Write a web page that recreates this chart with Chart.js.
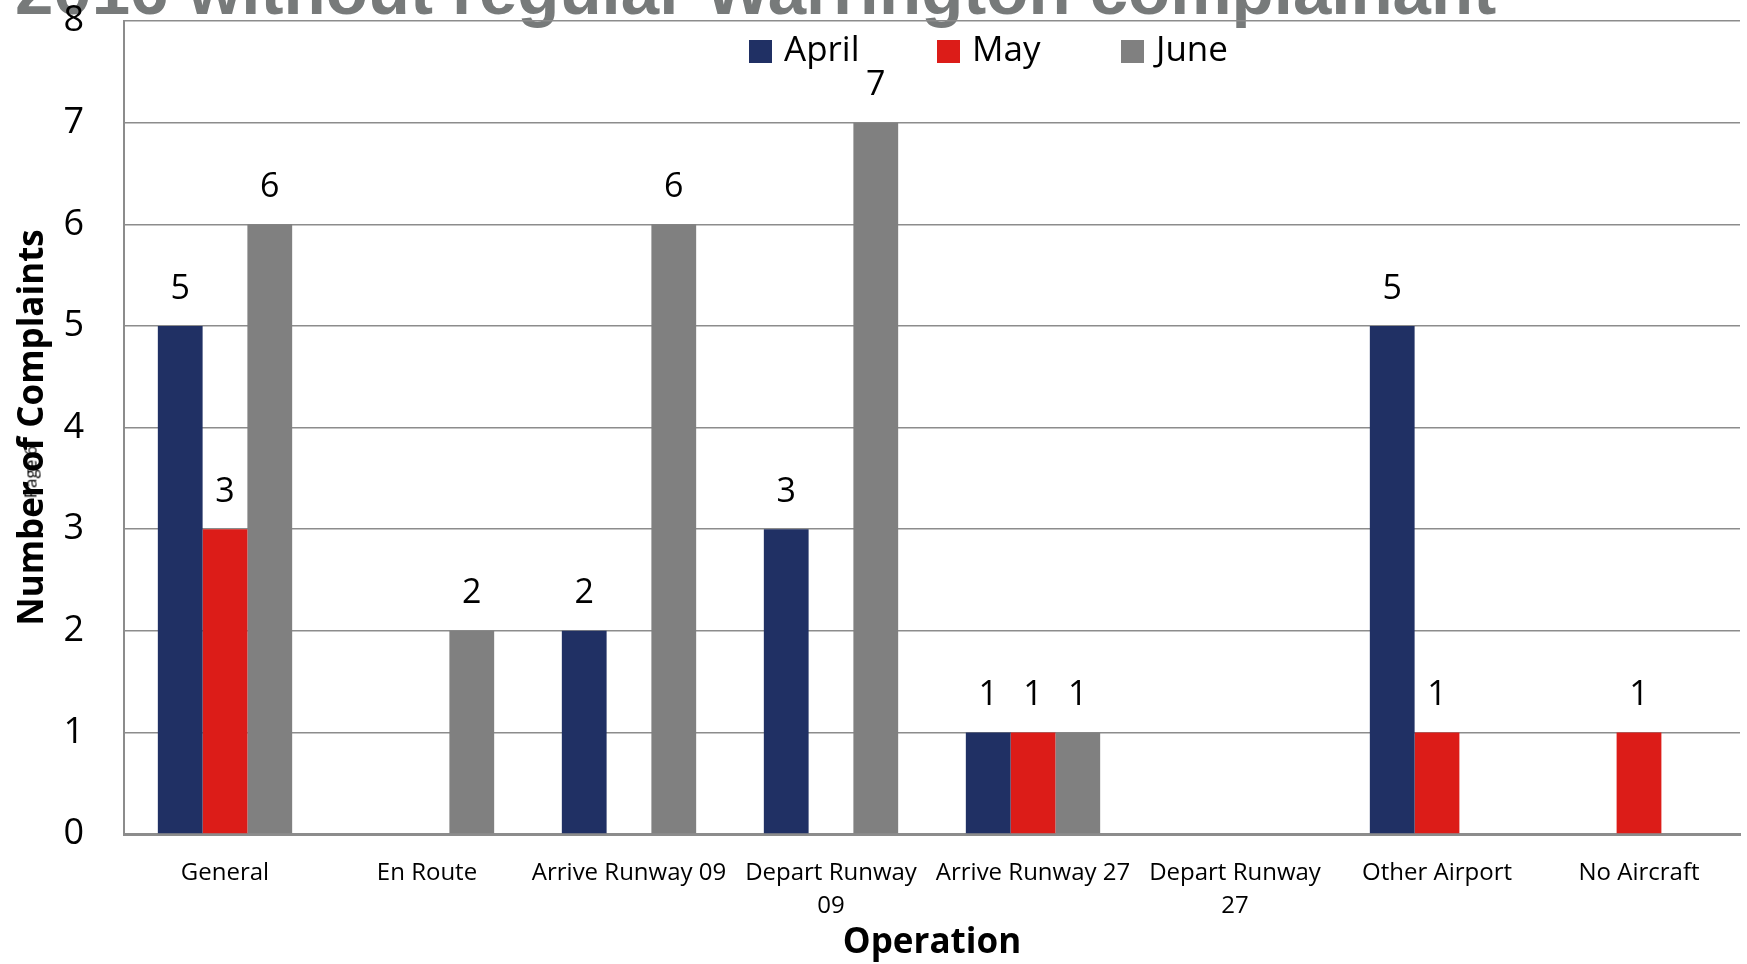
<!DOCTYPE html>
<html>
<head>
<meta charset="utf-8">
<script src="https://cdn.jsdelivr.net/npm/chart.js@4"></script>
<style>
  html, body { margin: 0; padding: 0; background: #fff; overflow: hidden; }
  #wrap { position: relative; width: 1747px; height: 964px; }
  #topTitle {
    position: absolute; left: 15px; top: -44px; white-space: nowrap;
    font: bold 69px "Liberation Sans", Arial, sans-serif; line-height: 1;
    color: #777a7a; z-index: 0;
  }
  #pageMark {
    position: absolute; left: 30px; top: 472px; transform: translate(-50%, -50%) rotate(-90deg);
    font: 17px "Open Sans", sans-serif; color: #000; white-space: nowrap; z-index: 2;
  }
  canvas { position: absolute; left: 0; top: 0; z-index: 1; }
</style>
</head>
<body>
<div id="wrap">
  <div id="topTitle">2016 without regular Warrington complainant</div>
  <canvas id="myChart" width="1747" height="964"></canvas>
  <div id="pageMark">Page 6</div>
</div>
<script>
// 카테고리와 월별 값
const operations = ["General", "En Route", "Arrive Runway 09", ["Depart Runway", "09"],
  "Arrive Runway 27", ["Depart Runway", "27"], "Other Airport", "No Aircraft"];
const aprilValues = [5, 0, 2, 3, 1, 0, 5, 0];
const mayValues = [3, 0, 0, 0, 1, 0, 1, 1];
const juneValues = [6, 2, 6, 7, 1, 0, 0, 0];
const yTicks = [0, 1, 2, 3, 4, 5, 6, 7, 8];

const FONT = '"Open Sans", "Noto Sans", sans-serif';

// 막대 위 숫자
const valueLabels = {
  id: "valueLabels",
  afterDatasetsDraw(chart) {
    const ctx = chart.ctx;
    ctx.save();
    ctx.font = "34px " + FONT;
    ctx.fillStyle = "#000";
    ctx.textAlign = "center";
    ctx.textBaseline = "middle";
    chart.data.datasets.forEach((ds, i) => {
      chart.getDatasetMeta(i).data.forEach((bar, j) => {
        if (!ds.data[j]) return;
        ctx.fillText(ds.data[j], bar.x, bar.y - 37);
      });
    });
    ctx.restore();
  },
};

// 차트 영역 안쪽 범례
const innerLegend = {
  id: "innerLegend",
  afterDraw(chart) {
    const ctx = chart.ctx;
    const starts = [749, 937, 1121];
    ctx.save();
    ctx.font = "35px " + FONT;
    ctx.textBaseline = "middle";
    ctx.textAlign = "left";
    chart.data.datasets.forEach((ds, i) => {
      ctx.fillStyle = ds.backgroundColor;
      ctx.fillRect(starts[i], 40, 23, 23);
      ctx.fillStyle = "#000";
      ctx.fillText(ds.label, starts[i] + 35, 51);
    });
    ctx.restore();
  },
};

const dataSet = {
  labels: operations,
  datasets: [
    { label: "April", data: aprilValues, backgroundColor: "#203064" },
    { label: "May", data: mayValues, backgroundColor: "#dc1c18" },
    { label: "June", data: juneValues, backgroundColor: "#808080" },
  ],
};

const config = {
  type: "bar",
  data: dataSet,
  options: {
    responsive: false,
    animation: false,
    layout: { padding: { top: 21, right: 7, left: 0, bottom: 0 } },
    datasets: { bar: { categoryPercentage: 0.665, barPercentage: 1 } },
    plugins: {
      legend: { display: false },
      tooltip: { enabled: false },
    },
    scales: {
      x: {
        grid: { display: false },
        border: { color: "#8c8c8c", width: 3 },
        ticks: { color: "#000", font: { family: FONT, size: 24, lineHeight: 1.4 }, padding: 14, maxRotation: 0, autoSkip: false },
        title: { display: true, text: "Operation", color: "#000", font: { family: FONT, size: 35, weight: "bold" }, padding: { top: 0, bottom: 0 } },
        afterFit(scale) { scale.height = 130; scale.paddingLeft = 0; scale.paddingRight = 0; },
      },
      y: {
        min: 0,
        max: 8,
        afterBuildTicks(scale) { scale.ticks = yTicks.map((v) => ({ value: v })); },
        grid: { color: "#8c8c8c", lineWidth: 1.5, drawTicks: false },
        border: { color: "#8c8c8c", width: 2 },
        ticks: { color: "#000", font: { family: FONT, size: 36 }, padding: 40 },
        title: { display: true, text: "Number of Complaints", color: "#000", font: { family: FONT, size: 35, weight: "bold" }, padding: { top: 12, bottom: 0 } },
        afterFit(scale) { scale.width = 124; scale.paddingTop = 0; scale.paddingBottom = 0; },
      },
    },
  },
  plugins: [valueLabels, innerLegend],
};

const myChart = new Chart(document.getElementById("myChart"), config);
</script>
</body>
</html>
